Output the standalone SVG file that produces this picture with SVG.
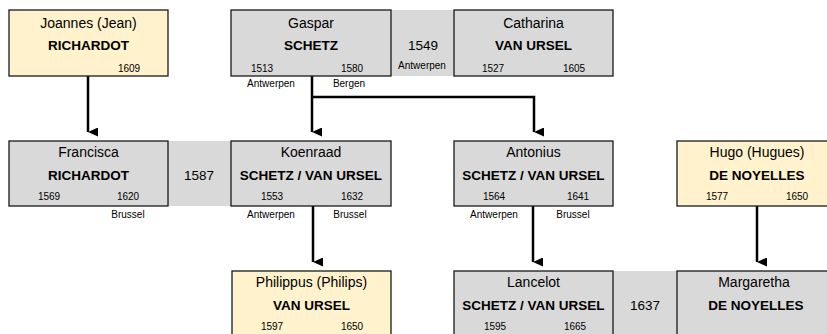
<svg xmlns="http://www.w3.org/2000/svg" width="827" height="334" viewBox="0 0 827 334">
<defs>
<marker id="ah" markerWidth="9" markerHeight="10" refX="4.5" refY="10" orient="auto-start-reverse" markerUnits="userSpaceOnUse" viewBox="0 0 9 10">
<path d="M0,0 L9,0 L4.5,10 Z" fill="#000"/>
</marker>
</defs>
<style>
text{font-family:"Liberation Sans",Arial,sans-serif;fill:#000;text-anchor:middle}
.g{fill:#d9d9d9;stroke:#1a1a1a;stroke-width:1.3}
.y{fill:#fff2cc;stroke:#1a1a1a;stroke-width:1.3}
.band{fill:#d9d9d9;stroke:none}
.nm{font-size:14px}
.sn{font-size:13.5px;font-weight:bold}
.yr{font-size:10px}
.pl{font-size:10px}
.mar{font-size:13.5px}
.c{fill:none;stroke:#000;stroke-width:2.5}
</style>

<g id="bands">
<rect class="band" x="391" y="10" width="63" height="66"/>
<rect class="band" x="168" y="141" width="63" height="65"/>
<rect class="band" x="613" y="271" width="64" height="70"/>
<text class="mar" x="423" y="50">1549</text>
<text class="pl" x="422" y="69">Antwerpen</text>
<text class="mar" x="199" y="180">1587</text>
<text class="mar" x="645" y="310">1637</text>
</g>

<g id="connectors">
<path class="c" d="M88,76 V132" marker-end="url(#ah)"/>
<path class="c" d="M312,76 V132" marker-end="url(#ah)"/>
<path class="c" d="M312,97 H534 V132" marker-end="url(#ah)"/>
<path class="c" d="M313,206 V262" marker-end="url(#ah)"/>
<path class="c" d="M533,206 V262" marker-end="url(#ah)"/>
<path class="c" d="M757,206 V262" marker-end="url(#ah)"/>
</g>

<g id="joannes">
<rect class="y" x="9" y="10" width="159" height="66"/>
<text class="nm" x="88.5" y="28">Joannes (Jean)</text>
<text class="sn" x="88.5" y="50">RICHARDOT</text>
<text class="yr" x="129" y="71.5">1609</text>
</g>

<g id="gaspar">
<rect class="g" x="231" y="10" width="160" height="66"/>
<text class="nm" x="311" y="28">Gaspar</text>
<text class="sn" x="311" y="50">SCHETZ</text>
<text class="yr" x="262" y="71.5">1513</text>
<text class="yr" x="352" y="71.5">1580</text>
<text class="pl" x="271" y="87">Antwerpen</text>
<text class="pl" x="349" y="87">Bergen</text>
</g>

<g id="catharina">
<rect class="g" x="454" y="10" width="159" height="66"/>
<text class="nm" x="533.5" y="28">Catharina</text>
<text class="sn" x="533.5" y="50">VAN URSEL</text>
<text class="yr" x="493" y="71.5">1527</text>
<text class="yr" x="574" y="71.5">1605</text>
</g>

<g id="francisca">
<rect class="g" x="9" y="141" width="159" height="65"/>
<text class="nm" x="88.5" y="157">Francisca</text>
<text class="sn" x="88.5" y="180">RICHARDOT</text>
<text class="yr" x="49" y="200">1569</text>
<text class="yr" x="128" y="200">1620</text>
<text class="pl" x="128" y="218">Brussel</text>
</g>

<g id="koenraad">
<rect class="g" x="231" y="141" width="160" height="65"/>
<text class="nm" x="311" y="157">Koenraad</text>
<text class="sn" x="311" y="180">SCHETZ / VAN URSEL</text>
<text class="yr" x="272" y="200">1553</text>
<text class="yr" x="352" y="200">1632</text>
<text class="pl" x="271" y="218">Antwerpen</text>
<text class="pl" x="350" y="218">Brussel</text>
</g>

<g id="antonius">
<rect class="g" x="454" y="141" width="159" height="65"/>
<text class="nm" x="533.5" y="157">Antonius</text>
<text class="sn" x="533.5" y="180">SCHETZ / VAN URSEL</text>
<text class="yr" x="494" y="200">1564</text>
<text class="yr" x="578" y="200">1641</text>
<text class="pl" x="494" y="218">Antwerpen</text>
<text class="pl" x="573" y="218">Brussel</text>
</g>

<g id="hugo">
<rect class="y" x="677" y="141" width="160" height="65"/>
<text class="nm" x="757" y="157">Hugo (Hugues)</text>
<text class="sn" x="757" y="180">DE NOYELLES</text>
<text class="yr" x="717" y="200">1577</text>
<text class="yr" x="797" y="200">1650</text>
</g>

<g id="philippus">
<rect class="y" x="232" y="271" width="159" height="70"/>
<text class="nm" x="311.5" y="287">Philippus (Philips)</text>
<text class="sn" x="311.5" y="310">VAN URSEL</text>
<text class="yr" x="272" y="330">1597</text>
<text class="yr" x="352" y="330">1650</text>
</g>

<g id="lancelot">
<rect class="g" x="454" y="271" width="159" height="70"/>
<text class="nm" x="533.5" y="287">Lancelot</text>
<text class="sn" x="533.5" y="310">SCHETZ / VAN URSEL</text>
<text class="yr" x="495" y="330">1595</text>
<text class="yr" x="575" y="330">1665</text>
</g>

<g id="margaretha">
<rect class="g" x="677" y="271" width="160" height="70"/>
<text class="nm" x="754" y="287">Margaretha</text>
<text class="sn" x="756" y="310">DE NOYELLES</text>
</g>
</svg>
